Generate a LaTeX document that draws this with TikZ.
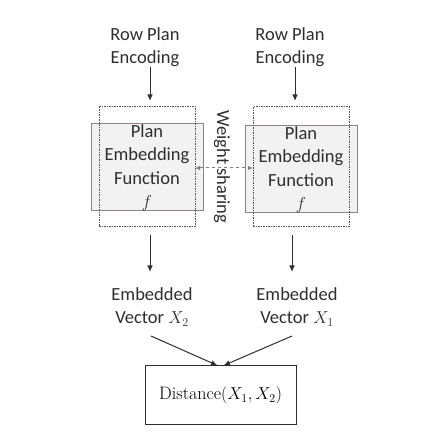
\documentclass[tikz,border=0pt]{standalone}
\usepackage{fontspec}
\newfontfamily\carlito{Carlito}
\usetikzlibrary{arrows.meta}
\definecolor{boxfill}{HTML}{F2F2F2}
\definecolor{boxline}{HTML}{8E8583}
\definecolor{dotline}{HTML}{555555}
\definecolor{inkc}{HTML}{2E2E2E}
\tikzset{
  lbl/.style={font=\carlito\fontsize{18.5}{23}\selectfont, align=center, inner sep=0pt, text=inkc},
  funcbox/.style={draw=boxline, line width=0.9pt, fill=boxfill, minimum width=112pt, minimum height=87pt, inner sep=0pt},
  dotbox/.style={draw=dotline, dash pattern=on 1.5pt off 1pt, line width=1pt, minimum width=96pt, minimum height=120pt, inner sep=0pt},
  arr/.style={draw=inkc, line width=1pt, -{Latex[length=6.5pt,width=5.5pt]}},
  share/.style={draw=gray, dashed, line width=1pt, {Latex[length=5pt,width=4.5pt]}-{Latex[length=5pt,width=4.5pt]}},
  distbox/.style={draw=inkc, line width=1pt, minimum width=151pt, minimum height=59pt, inner sep=0pt}
}
\begin{document}
\begin{tikzpicture}[x=1pt,y=-1pt]
\useasboundingbox (0,0) rectangle (448,446);
% left branch
\node[lbl] (lenc) at (145,47) {Row Plan\\Encoding};
\node[funcbox] (lbox) at (147,166.5) {};
\node[dotbox] (ldot) at (147,166.5) {};
\node[lbl, font=\carlito\fontsize{18.5}{23.5}\selectfont] (ltxt) at (147,168) {Plan\\Embedding\\Function\\$f$};
\coordinate (lin) at (150,67);
\coordinate (linend) at (150,101);
\draw[arr] (lin) -- (linend);
\coordinate (lout) at (150,235);
\coordinate (loutend) at (150,272);
\draw[arr] (lout) -- (loutend);
\node[lbl] (lvec) at (152,307) {Embedded\\Vector $X_2$};
% right branch
\node[lbl] (renc) at (290,47) {Row Plan\\Encoding};
\node[funcbox] (rbox) at (301,168.5) {};
\node[dotbox] (rdot) at (301,167) {};
\node[lbl, font=\carlito\fontsize{18.5}{23.5}\selectfont] (rtxt) at (301,170) {Plan\\Embedding\\Function\\$f$};
\coordinate (rin) at (295,67);
\coordinate (rinend) at (295,101);
\draw[arr] (rin) -- (rinend);
\coordinate (rout) at (292,235);
\coordinate (routend) at (292,272);
\draw[arr] (rout) -- (routend);
\node[lbl] (rvec) at (297,307) {Embedded\\Vector $X_1$};
% weight sharing
\coordinate (wsl) at (195,168);
\coordinate (wsr) at (253,168);
\draw[share] (wsl) -- (wsr);
\node[lbl, rotate=-90] (ws) at (222,167) {Weight sharing};
% distance
\node[distbox] (dist) at (220.5,395.5) {\fontsize{18}{22}\selectfont Distance$(X_1,X_2)$};
\coordinate (lv) at (151,336);
\coordinate (rv) at (292,336);
\draw[arr] (lv) -- ([xshift=-3pt]dist.north);
\draw[arr] (rv) -- ([xshift=3pt]dist.north);
\end{tikzpicture}
\end{document}
